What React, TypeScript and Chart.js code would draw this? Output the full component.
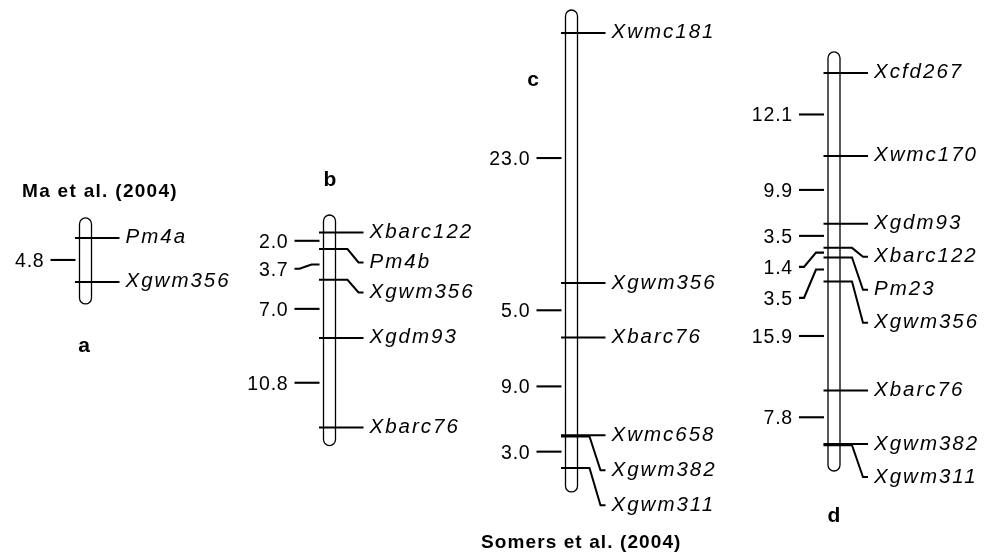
import React, { useEffect, useRef } from 'react';
import { Chart, registerables } from 'chart.js';

Chart.register(...registerables);

// ---------------- data ----------------
const panelIds = ['a', 'b', 'c', 'd'];

const markersA = ['Pm4a', 'Xgwm356'];
const positionsA = [0, 4.8];
const distancesA = [4.8];

const markersB = ['Xbarc122', 'Pm4b', 'Xgwm356', 'Xgdm93', 'Xbarc76'];
const positionsB = [0, 2.0, 5.7, 12.7, 23.5];
const distancesB = [2.0, 3.7, 7.0, 10.8];

const markersC = ['Xwmc181', 'Xgwm356', 'Xbarc76', 'Xwmc658', 'Xgwm382', 'Xgwm311'];
const positionsC = [0, 23.0, 28.0, 37.0, 37.0, 40.0];
const distancesC = [23.0, 5.0, 9.0, null, 3.0];

const markersD = ['Xcfd267', 'Xwmc170', 'Xgdm93', 'Xbarc122', 'Pm23', 'Xgwm356', 'Xbarc76', 'Xgwm382', 'Xgwm311'];
const positionsD = [0, 12.1, 22.0, 25.5, 26.9, 30.4, 46.3, 54.1, 54.1];
const distancesD = [12.1, 9.9, 3.5, 1.4, 3.5, 15.9, 7.8, null];

const sourceTop = 'Ma et al. (2004)';
const sourceBottom = 'Somers et al. (2004)';

// ---------------- layout ----------------
const W = 993;
const H = 553;

type Panel = {
  id: string;
  markers: string[];
  positions: number[];
  distances: (number | null)[];
};

const panels: Panel[] = [
  { id: panelIds[0], markers: markersA, positions: positionsA, distances: distancesA },
  { id: panelIds[1], markers: markersB, positions: positionsB, distances: distancesB },
  { id: panelIds[2], markers: markersC, positions: positionsC, distances: distancesC },
  { id: panelIds[3], markers: markersD, positions: positionsD, distances: distancesD },
];

const layout: Record<string, any> = {
  a: { cx: 85.5, yMin: -25.96, yMax: 34.37, padTop: 20, padBottom: 22, labelGap: 33, distGap: 30, letter: [84, 352] },
  b: { cx: 329.5, yMin: -28.01, yMax: 38.61, padTop: 17.5, padBottom: 18, labelGap: 30, distGap: 28, letter: [330, 186] },
  c: { cx: 571.5, yMin: -3.034, yMax: 47.82, padTop: 23, padBottom: 24, labelGap: 35, distGap: 30, letter: [533, 86] },
  d: { cx: 834, yMin: -10.64, yMax: 69.99, padTop: 21, padBottom: 27, labelGap: 33, distGap: 31, letter: [834, 522] },
};

const TUBE_W = 12;
const FONT = '"Liberation Sans", Arial, Helvetica, sans-serif';

function roundedTube(ctx: CanvasRenderingContext2D, x: number, y0: number, w: number, y1: number) {
  const r = w / 2;
  ctx.beginPath();
  ctx.moveTo(x, y0 + r);
  ctx.arc(x + r, y0 + r, r, Math.PI, 0, false);
  ctx.lineTo(x + w, y1 - r);
  ctx.arc(x + r, y1 - r, r, 0, Math.PI, false);
  ctx.closePath();
}

const mapPlugin = {
  id: 'linkageMap',
  beforeDraw(chart: any) {
    const ctx = chart.ctx as CanvasRenderingContext2D;
    ctx.save();
    ctx.fillStyle = '#ffffff';
    ctx.fillRect(0, 0, chart.width, chart.height);
    ctx.restore();
  },
  afterDatasetsDraw(chart: any) {
    const ctx = chart.ctx as CanvasRenderingContext2D;
    const xs = chart.scales.x;
    ctx.save();
    ctx.strokeStyle = '#000';
    ctx.fillStyle = '#000';
    ctx.lineJoin = 'miter';

    panels.forEach((p) => {
      const L = layout[p.id];
      const ys = chart.scales['y' + p.id];
      const cx = xs.getPixelForValue(L.cx);
      const tubeL = cx - TUBE_W / 2;
      const tubeR = cx + TUBE_W / 2;
      const py = p.positions.map((v) => ys.getPixelForValue(v));

      // tube
      ctx.lineWidth = 1.3;
      roundedTube(ctx, tubeL, py[0] - L.padTop, TUBE_W, py[py.length - 1] + L.padBottom);
      ctx.fillStyle = '#fff';
      ctx.fill();
      ctx.stroke();
      ctx.fillStyle = '#000';

      // markers
      const x0 = tubeL - 4.5;
      const x1 = tubeR + 28;
      const bendX = tubeR + 12;
      const labelX = tubeR + 34;
      const labelYs: number[] = [];
      ctx.font = `italic 20.5px ${FONT}`;
      (ctx as any).letterSpacing = '2px';
      ctx.textAlign = 'left';
      ctx.textBaseline = 'alphabetic';
      p.markers.forEach((m, i) => {
        const y = py[i];
        const ly = i === 0 ? y : Math.max(y, labelYs[i - 1] + L.labelGap);
        labelYs.push(ly);
        const coincident = i > 0 && Math.abs(py[i - 1] - y) < 0.5;
        const yy = coincident ? y + 1.2 : y;
        ctx.lineWidth = 2;
        ctx.beginPath();
        if (Math.abs(ly - y) < 0.5) {
          ctx.moveTo(x0, yy);
          ctx.lineTo(x1, yy);
        } else {
          ctx.moveTo(x0, yy);
          ctx.lineTo(bendX, yy);
          ctx.lineTo(x1 - 5, ly);
          ctx.lineTo(x1, ly);
        }
        ctx.stroke();
        ctx.fillText(m, labelX, ly + 5.5);
      });

      // distances
      const dEnd = tubeL - 4;
      const dStart = dEnd - 25;
      ctx.font = `19.5px ${FONT}`;
      (ctx as any).letterSpacing = '0.8px';
      ctx.textAlign = 'right';
      let prev = -Infinity;
      p.distances.forEach((d, i) => {
        if (d === null || d === undefined) return;
        const mid = (py[i] + py[i + 1]) / 2;
        const dy = Math.max(mid, prev + L.distGap);
        prev = dy;
        ctx.lineWidth = 2.1;
        ctx.beginPath();
        if (Math.abs(dy - mid) < 0.5) {
          ctx.moveTo(dStart, mid);
          ctx.lineTo(dEnd, mid);
        } else {
          ctx.moveTo(dStart, dy);
          ctx.lineTo(dStart + 5, dy);
          ctx.lineTo(dStart + 17, mid);
          ctx.lineTo(dEnd, mid);
        }
        ctx.stroke();
        ctx.fillText(d.toFixed(1), dStart - 6, dy + 7);
      });

      // panel letter
      ctx.font = `bold 21px ${FONT}`;
      (ctx as any).letterSpacing = '0px';
      ctx.textAlign = 'center';
      ctx.fillText(p.id, L.letter[0], L.letter[1]);
    });

    // sources
    ctx.font = `bold 19px ${FONT}`;
    (ctx as any).letterSpacing = '1.3px';
    ctx.textAlign = 'left';
    ctx.fillText(sourceTop, 22, 197);
    (ctx as any).letterSpacing = '1.1px';
    ctx.fillText(sourceBottom, 481, 548);
    (ctx as any).letterSpacing = '0px';
    ctx.restore();
  },
};

export default function App() {
  const ref = useRef<HTMLCanvasElement | null>(null);
  useEffect(() => {
    if (!ref.current) return;
    const scales: any = {
      x: { type: 'linear', min: 0, max: W, display: false },
    };
    panels.forEach((p) => {
      const L = layout[p.id];
      scales['y' + p.id] = { type: 'linear', reverse: true, min: L.yMin, max: L.yMax, display: false };
    });
    const chart = new Chart(ref.current, {
      type: 'scatter',
      data: {
        datasets: panels.map((p) => ({
          label: p.id,
          data: p.positions.map((v) => ({ x: layout[p.id].cx, y: v })),
          yAxisID: 'y' + p.id,
          pointRadius: 0,
          showLine: false,
        })),
      },
      options: {
        responsive: false,
        animation: false,
        devicePixelRatio: 1,
        events: [],
        layout: { padding: 0 },
        plugins: { legend: { display: false }, tooltip: { enabled: false }, title: { display: false } },
        scales,
      },
      plugins: [mapPlugin],
    });
    return () => chart.destroy();
  }, []);
  return (
    <div style={{ position: 'absolute', left: 0, top: 0, width: W, height: H, background: '#fff' }}>
      <canvas ref={ref} width={W} height={H} style={{ width: W, height: H, display: 'block' }} />
    </div>
  );
}
